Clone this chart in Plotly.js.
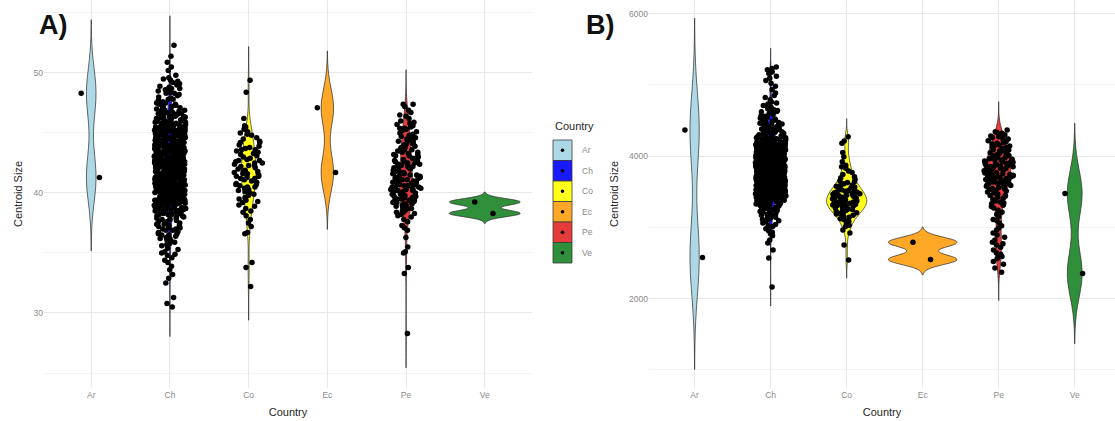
<!DOCTYPE html>
<html><head><meta charset="utf-8">
<script src="https://cdn.plot.ly/plotly-3.0.1.min.js"></script>
<style>html,body{margin:0;padding:0;background:#fff}#chart{width:1115px;height:421px}</style>
</head><body><div id="chart"></div>
<script>
const countries = ['Ar','Ch','Co','Ec','Pe','Ve'];
const legendLabels = ['Ar','Ch','Co','Ec','Pe','Ve'];
const colors = ['#add8e6','#1a1aff','#ffff1a','#ffa726','#e63b3b','#2f8f3a'];
const panelLabels = ['A)','B)'];
const xTitle = 'Country';
const yTitle = 'Centroid Size';
const legendTitle = 'Country';

// Panel A values (centroid size)
const arA = [48.3, 41.3];
const chA = [30.5,30.8,31.3,32.5,32.9,33.6,33.2,33.9,34.2,34.6,34.9,34.4,34.8,
35.1,35.4,35.7,35.9,35.3,35.6,35.0,35.8,
36.0,36.2,36.3,36.5,36.6,36.8,36.9,36.1,36.4,36.7,36.5,36.2,36.9,36.6,
37.0,37.1,37.3,37.4,37.5,37.6,37.8,37.9,37.2,37.7,37.4,37.1,37.6,37.9,37.3,37.5,37.8,37.0,
38.0,38.1,38.2,38.3,38.4,38.5,38.6,38.7,38.8,38.9,38.2,38.5,38.7,38.1,38.4,38.6,38.9,38.3,38.0,38.8,38.5,38.2,
39.0,39.1,39.2,39.3,39.4,39.5,39.6,39.7,39.8,39.9,39.1,39.3,39.5,39.7,39.9,39.2,39.4,39.6,39.8,39.0,39.5,39.3,39.7,39.1,39.6,39.4,
40.0,40.1,40.2,40.3,40.4,40.5,40.6,40.7,40.8,40.9,40.1,40.3,40.5,40.7,40.9,40.2,40.4,40.6,40.8,40.0,40.5,40.3,40.7,40.1,40.6,40.4,40.8,40.2,
41.0,41.1,41.2,41.3,41.4,41.5,41.6,41.7,41.8,41.9,41.2,41.4,41.6,41.8,41.0,41.3,41.5,41.7,41.9,41.1,41.5,41.3,41.7,41.2,41.6,41.4,41.8,41.0,41.9,41.5,
42.0,42.1,42.2,42.3,42.4,42.5,42.6,42.7,42.8,42.9,42.2,42.4,42.6,42.8,42.0,42.3,42.5,42.7,42.9,42.1,42.5,42.3,42.7,42.2,42.6,42.4,42.8,42.0,42.9,42.5,
43.0,43.1,43.2,43.3,43.4,43.5,43.6,43.7,43.8,43.9,43.1,43.3,43.5,43.7,43.9,43.2,43.4,43.6,43.8,43.0,43.5,43.3,43.7,43.1,43.6,43.4,43.8,43.2,
44.0,44.1,44.2,44.3,44.4,44.5,44.6,44.7,44.8,44.9,44.1,44.3,44.5,44.7,44.9,44.2,44.4,44.6,44.8,44.0,44.5,44.3,44.7,44.1,44.6,44.4,
45.0,45.1,45.2,45.3,45.4,45.5,45.6,45.7,45.8,45.9,45.1,45.3,45.5,45.7,45.9,45.2,45.4,45.6,45.8,45.0,45.5,45.3,45.7,45.2,
46.0,46.1,46.2,46.3,46.4,46.5,46.6,46.7,46.8,46.9,46.2,46.4,46.6,46.8,46.1,46.3,46.5,46.7,46.9,46.0,
47.0,47.1,47.2,47.3,47.4,47.5,47.6,47.7,47.8,47.9,47.2,47.4,47.6,47.8,47.1,47.5,
48.0,48.1,48.2,48.3,48.4,48.5,48.6,48.7,48.8,48.9,48.3,48.5,48.7,
49.0,49.2,49.3,49.5,49.6,49.8,49.1,49.4,
50.2,50.5,50.9,51.4,52.3,
38.55,38.62,38.68,38.74,38.79,38.83,38.88,38.93,38.97,38.71,
39.05,39.12,39.18,39.24,39.31,39.37,39.43,39.48,39.55,39.61,39.66,39.72,39.78,39.85,39.91,39.96,39.08,39.15,39.27,39.34,39.46,39.52,39.58,39.69,39.75,39.82,39.88,39.94,
40.03,40.08,40.14,40.19,40.25,40.31,40.36,40.42,40.47,40.53,40.58,40.64,40.69,40.75,40.81,40.86,40.92,40.97,40.05,40.11,40.17,40.22,40.28,40.33,40.39,40.44,40.5,40.56,40.61,40.67,40.72,40.78,40.83,40.89,40.94,40.99,
41.02,41.07,41.12,41.17,41.22,41.27,41.32,41.37,41.42,41.47,41.52,41.57,41.62,41.67,41.72,41.77,41.82,41.87,41.92,41.97,41.04,41.09,41.14,41.19,41.24,41.29,41.34,41.39,41.44,41.49,41.54,41.59,41.64,41.69,41.74,41.79,41.84,41.89,41.94,41.99,
42.02,42.07,42.12,42.17,42.22,42.27,42.32,42.37,42.42,42.47,42.52,42.57,42.62,42.67,42.72,42.77,42.82,42.87,42.92,42.97,42.04,42.09,42.14,42.19,42.24,42.29,42.34,42.39,42.44,42.49,42.54,42.59,42.64,42.69,42.74,42.79,42.84,42.89,42.94,42.99,
43.03,43.08,43.14,43.19,43.25,43.31,43.36,43.42,43.47,43.53,43.58,43.64,43.69,43.75,43.81,43.86,43.92,43.97,43.05,43.11,43.17,43.22,43.28,43.33,43.39,43.44,43.5,43.56,43.61,43.67,43.72,43.78,43.83,43.89,43.94,43.99,
44.02,44.06,44.11,44.15,44.19,44.24,44.28,44.33,44.37,44.41,44.46,44.5,44.54,44.59,44.63,44.67,44.72,44.76,44.81,44.85,44.89,44.94,44.98,44.13,44.31,44.48,44.65,44.83,44.21,44.57,
45.03,45.08,45.14,45.19,45.25,45.31,45.36,45.42,45.47,45.53,45.58,45.64,45.69,45.75,45.81,45.86,45.92,45.97,45.22,45.61,
46.05,46.15,46.25,46.35,46.45,46.55,46.65,46.75,46.85,46.95];
const coA = [32.2,33.8,34.2,36.6,36.7,37.2,37.8,37.5,
38.1,38.4,38.5,38.7,38.9,
39.0,39.2,39.3,39.5,39.6,39.8,39.9,39.4,
40.0,40.1,40.3,40.4,40.5,40.6,40.7,40.8,40.9,40.2,40.5,40.7,
41.0,41.1,41.2,41.3,41.4,41.5,41.6,41.7,41.8,41.9,41.2,41.4,41.6,41.8,
42.0,42.1,42.2,42.3,42.4,42.5,42.6,42.7,42.8,42.9,42.3,42.5,42.7,
43.0,43.1,43.2,43.3,43.5,43.6,43.7,43.8,43.9,43.4,43.6,
44.0,44.2,44.3,44.5,44.6,44.8,44.9,44.2,
45.1,45.3,45.5,45.0,45.6,46.2,48.4,49.4];
const ecA = [47.1, 41.7];
const peA = [28.3,33.3,33.8,35.0,35.1,35.5,36.3,36.9,
37.3,37.6,37.8,37.1,
38.0,38.1,38.2,38.3,38.4,38.5,38.6,38.7,38.8,38.9,38.4,38.7,
39.0,39.1,39.2,39.3,39.4,39.5,39.6,39.7,39.8,39.9,39.1,39.2,39.4,39.5,39.6,39.8,39.3,39.7,39.0,39.9,
40.0,40.1,40.2,40.3,40.4,40.5,40.6,40.7,40.8,40.9,40.1,40.3,40.5,40.7,40.9,40.2,40.4,40.6,40.8,40.0,40.5,40.3,
41.0,41.1,41.2,41.3,41.4,41.5,41.6,41.7,41.8,41.9,41.1,41.3,41.5,41.7,41.9,41.2,41.4,41.6,41.8,41.0,
42.0,42.1,42.2,42.3,42.4,42.5,42.6,42.7,42.8,42.9,42.1,42.3,42.5,42.7,42.9,42.2,42.6,42.4,
43.0,43.1,43.2,43.3,43.4,43.5,43.6,43.7,43.8,43.9,43.2,43.4,43.6,43.8,43.1,43.5,
44.0,44.1,44.2,44.3,44.4,44.5,44.6,44.7,44.8,44.9,44.3,44.5,44.7,44.1,
45.0,45.1,45.2,45.3,45.4,45.5,45.6,45.7,45.8,45.9,45.4,
46.0,46.2,46.5,46.7,46.9,46.4,
47.2,47.4,47.4];
const veA = [39.25, 38.3];

// Panel B values (centroid size)
const arB = [4365, 2575];
const chB = [2160,2570,2680,2780,2820,2880,
2910,2950,2980,3010,3040,3060,3080,2930,3020,3090,
3110,3120,3140,3150,3170,3180,3200,3210,3230,3240,3260,3270,3290,3130,3160,3190,3220,3250,3280,3105,3175,3245,
3300,3310,3320,3330,3340,3350,3360,3370,3380,3390,3400,3410,3420,3430,3440,3450,3460,3470,3480,3490,3305,3325,3345,3365,3385,3405,3425,3445,3465,3485,3315,3355,3395,3435,3475,3335,3415,3455,
3500,3510,3520,3530,3540,3550,3560,3570,3580,3590,3600,3610,3620,3630,3640,3650,3660,3670,3680,3690,
3505,3515,3525,3535,3545,3555,3565,3575,3585,3595,3605,3615,3625,3635,3645,3655,3665,3675,3685,3695,
3512,3538,3562,3588,3612,3638,3662,3688,3548,3624,
3700,3710,3720,3730,3740,3750,3760,3770,3780,3790,3800,3810,3820,3830,3840,3850,3860,3870,3880,3890,
3705,3715,3725,3735,3745,3755,3765,3775,3785,3795,3805,3815,3825,3835,3845,3855,3865,3875,3885,3895,
3712,3728,3746,3764,3782,3808,3826,3844,3862,3878,3752,3818,
3900,3910,3920,3930,3940,3950,3960,3970,3980,3990,4000,4010,4020,4030,4040,4050,4060,4070,4080,4090,
3905,3915,3925,3935,3945,3955,3965,3975,3985,3995,4005,4015,4025,4035,4045,4055,4065,4075,4085,4095,
3912,3946,3978,4012,4046,4078,3962,4028,
4100,4110,4120,4130,4140,4150,4160,4170,4180,4190,4200,4210,4220,4230,4240,4250,4260,4270,4280,4290,
4105,4115,4125,4135,4145,4155,4165,4175,4185,4195,4205,4215,4225,4235,4245,4255,4265,4275,
4300,4310,4320,4330,4340,4350,4360,4370,4380,4390,4400,4410,4420,4430,4440,4450,4460,4470,4480,4490,
4305,4335,4365,4395,4425,4455,4485,4345,
4505,4515,4530,4545,4560,4570,4585,4600,4610,4625,4640,4650,4665,4680,4690,4550,4620,4520,
4710,4745,4760,4790,4820,4850,4884,4730,
4930,4980,5020,5060,5090,
5120,5160,5180,5210,5230,5250,
3402,3408,3414,3421,3427,3433,3441,3447,3453,3459,3466,3472,3478,3484,3491,3497,3438,3462,
3502,3506,3509,3513,3516,3521,3524,3528,3531,3536,3539,3543,3547,3551,3554,3558,3561,3566,3569,3573,3577,3581,3584,3587,3591,3594,3597,3599,3533,3576,
3601,3604,3607,3609,3613,3616,3619,3622,3626,3629,3632,3634,3637,3641,3644,3647,3651,3654,3657,3659,3663,3666,3669,3672,3676,3679,3682,3684,3687,3691,3694,3697,3699,3611,3649,3671,
3701,3703,3706,3708,3711,3713,3716,3718,3721,3723,3726,3728,3731,3733,3736,3738,3741,3743,3746,3748,3751,3753,3756,3758,3761,3763,3766,3768,3771,3773,3776,3778,3781,3783,3786,3788,3791,3793,3796,3798,
3801,3803,3806,3808,3811,3813,3816,3818,3821,3823,3826,3828,3831,3833,3836,3838,3841,3843,3846,3848,3851,3853,3856,3858,3861,3863,3866,3868,3871,3873,3876,3878,3881,3883,3886,3888,3891,3893,3896,3898,
3901,3904,3907,3909,3913,3916,3919,3922,3926,3929,3932,3934,3937,3941,3944,3947,3951,3954,3957,3959,3963,3966,3969,3972,3976,3979,3982,3984,3987,3991,3994,3997,3999,3911,3949,3971,
4002,4006,4009,4013,4016,4021,4024,4028,4031,4036,4039,4043,4047,4051,4054,4058,4061,4066,4069,4073,4077,4081,4084,4087,4091,4094,4097,4099,
4104,4111,4118,4125,4132,4139,4146,4153,4160,4167,4174,4181,4188,4195,
4206,4218,4231,4243,4256,4268,4281,4293];
const coB = [2540,2750,2920,2960,
3010,3030,3060,3085,
3105,3120,3140,3155,3170,3185,3195,
3205,3210,3220,3230,3240,3250,3255,3265,3270,3280,3290,3295,
3300,3306,3312,3318,3325,3331,3337,3343,3350,3356,3362,3368,3375,3381,3387,3393,
3400,3407,3414,3421,3428,3435,3442,3449,3456,3463,3470,3477,3484,3491,3498,
3505,3515,3525,3535,3545,3555,3565,3575,3585,3595,
3610,3630,3650,3670,3690,3640,
3710,3740,3770,3790,
3830,3870,3850,
3920,3990,
4050,4180,4210,4270];
const ecB = [2790, 2547];
const peB = [2370,2430,2480,2520,2560,2590,2600,2640,2680,2620,2720,2750,2770,2790,
2820,2860,2890,2920,2960,2990,3020,3060,3090,3110,3150,3180,3210,3240,3270,3290,
3310,3330,3350,3370,3390,3340,
3405,3420,3435,3450,3465,3480,3495,3445,
3500,3510,3520,3530,3545,3555,3565,3575,3585,3595,3540,
3600,3607,3614,3621,3628,3635,3642,3649,3656,3663,3670,3677,3684,3691,
3700,3706,3712,3718,3725,3731,3737,3743,3750,3756,3762,3768,3775,3781,3787,3793,
3800,3806,3812,3818,3824,3830,3836,3842,3848,3854,3860,3866,3872,3878,3884,3890,3896,
3900,3906,3912,3918,3925,3931,3937,3943,3950,3956,3962,3968,3975,3981,3987,3993,
4000,4008,4016,4024,4031,4039,4047,4054,4062,4070,4077,4085,4093,
4100,4110,4120,4130,4140,4150,4160,4170,4180,4190,
4205,4215,4230,4240,4255,4265,4280,4270,
4300,4320,4340,4365,4330];
const veB = [3474, 2350];

const panelA = [arA, chA, coA, ecA, peA, veA];
const panelB = [arB, chB, coB, ecB, peB, veB];

// ggplot-like bandwidth (bw.nrd0)
function bwNrd0(v){
  const s = v.slice().sort((a,b)=>a-b), n = s.length;
  const mean = s.reduce((a,b)=>a+b,0)/n;
  const sd = Math.sqrt(s.reduce((a,b)=>a+(b-mean)*(b-mean),0)/(n-1));
  const q = p => { const h=(n-1)*p, lo=Math.floor(h), hi=Math.min(lo+1,n-1); return s[lo]+(h-lo)*(s[hi]-s[lo]); };
  let lo = Math.min(sd, (q(0.75)-q(0.25))/1.34);
  if(!(lo>0)) lo = sd || 1;
  return 0.9*lo*Math.pow(n,-0.2);
}
function peakDensity(v, bw){
  const lo = Math.min(...v)-3*bw, hi = Math.max(...v)+3*bw;
  let m = 0;
  for(let k=0;k<=512;k++){
    const x = lo+(hi-lo)*k/512; let d = 0;
    for(const xi of v){ const z=(x-xi)/bw; d += Math.exp(-0.5*z*z); }
    d /= v.length*bw*Math.sqrt(2*Math.PI);
    if(d>m) m = d;
  }
  return m;
}

const traces = [];
function addPanel(groups, xa, ya, tag){
  const bws = groups.map(bwNrd0);
  const peaks = groups.map((g,i)=>peakDensity(g,bws[i]));
  const pmax = Math.max(...peaks);
  groups.forEach((g,i)=>{
    traces.push({
      type:'violin', xaxis:xa, yaxis:ya, name:countries[i], scalegroup:tag+'v'+i,
      x:g.map(()=>countries[i]), y:g,
      bandwidth:bws[i], spanmode:'manual',
      span:[Math.min(...g)-3*bws[i], Math.max(...g)+3*bws[i]],
      scalemode:'width', width:0.9*peaks[i]/pmax,
      fillcolor:colors[i], line:{color:'#2a2a2a', width:0.7},
      points:false, box:{visible:false}, meanline:{visible:false},
      showlegend:false, hoverinfo:'skip'
    });
  });
  groups.forEach((g,i)=>{
    traces.push({
      type:'violin', xaxis:xa, yaxis:ya, name:countries[i]+' points', scalegroup:tag+'p'+i,
      x:g.map(()=>countries[i]), y:g,
      bandwidth:bws[i], spanmode:'hard',
      width:0.4, scalemode:'width',
      fillcolor:'rgba(0,0,0,0)', line:{color:'rgba(0,0,0,0)', width:0},
      points:'all', jitter:1, pointpos:0,
      marker:{color:'#000', size:5.5},
      box:{visible:false}, meanline:{visible:false},
      showlegend:false, hoverinfo:'y'
    });
  });
}
addPanel(panelA, 'x', 'y', 'A');
addPanel(panelB, 'x2', 'y2', 'B');

// pixel helpers (plot area: x 44..1115, y 0..388)
const L = 44, W = 1071, H = 388;
const px = p => (p-L)/W;
const py = p => 1 - p/H;

const tickFont = {family:'Liberation Sans, Arial, sans-serif', size:8.5, color:'#8a8a8a'};
const titleFont = {family:'Liberation Sans, Arial, sans-serif', size:11, color:'#262626'};
const gridMaj = '#e8e8e8', gridMin = '#f4f4f4';

function xAxis(domain, range, anchor){
  return {domain, range, anchor, type:'category', categoryorder:'array', categoryarray:countries,
    showgrid:true, gridcolor:gridMaj, gridwidth:1, zeroline:false, showline:false, ticks:'',
    tickfont:tickFont, title:{text:xTitle, font:titleFont, standoff:9}, fixedrange:true};
}
function yAxis(range, dtick, anchor){
  return {domain:[0,1], range, anchor, dtick, tick0:0, showgrid:true, gridcolor:gridMaj, gridwidth:1,
    minor:{dtick:dtick/2, tick0:0, showgrid:true, gridcolor:gridMin, gridwidth:1, ticks:''},
    zeroline:false, showline:false, ticks:'', tickfont:tickFont,
    title:{text:yTitle, font:titleFont, standoff:8}, fixedrange:true};
}

const shapes = [], annotations = [];
countries.forEach((c,i)=>{
  const top = 140 + i*20.5, bot = top + 20.5, cy = top + 10.25;
  shapes.push({type:'rect', xref:'paper', yref:'paper', x0:px(553), x1:px(572), y0:py(bot), y1:py(top),
    fillcolor:colors[i], line:{color:'#3a3a3a', width:0.8}});
  shapes.push({type:'circle', xref:'paper', yref:'paper', x0:px(560.7), x1:px(564.3), y0:py(cy+1.8), y1:py(cy-1.8),
    fillcolor:'#000', line:{width:0}});
  annotations.push({xref:'paper', yref:'paper', x:px(580), y:py(cy), text:legendLabels[i], showarrow:false,
    xanchor:'left', yanchor:'middle', font:tickFont});
});
annotations.push({xref:'paper', yref:'paper', x:px(553), y:py(126), text:legendTitle, showarrow:false,
  xanchor:'left', yanchor:'middle', font:titleFont});
annotations.push({xref:'paper', yref:'paper', x:px(53), y:py(25), text:panelLabels[0], showarrow:false,
  xanchor:'center', yanchor:'middle', font:{family:'Liberation Sans, Arial, sans-serif', size:27, color:'#111', weight:'bold'}});
annotations.push({xref:'paper', yref:'paper', x:px(600), y:py(25), text:panelLabels[1], showarrow:false,
  xanchor:'center', yanchor:'middle', font:{family:'Liberation Sans, Arial, sans-serif', size:27, color:'#111', weight:'bold'}});

const layout = {
  width:1115, height:421, margin:{l:L, r:0, t:0, b:33, pad:0},
  paper_bgcolor:'#fff', plot_bgcolor:'#fff', showlegend:false, violinmode:'overlay',
  xaxis: xAxis([0, 488/W], [-0.6, 5.6], 'y'),
  yaxis: yAxis([23.75, 56.08], 10, 'x'),
  xaxis2: xAxis([(649-L)/W, 1], [-0.6, 5.53], 'y2'),
  yaxis2: yAxis([744, 6190], 2000, 'x2'),
  shapes, annotations,
  font:{family:'Liberation Sans, Arial, sans-serif'}
};
Plotly.newPlot('chart', traces, layout, {displayModeBar:false, staticPlot:true});
</script></body></html>
